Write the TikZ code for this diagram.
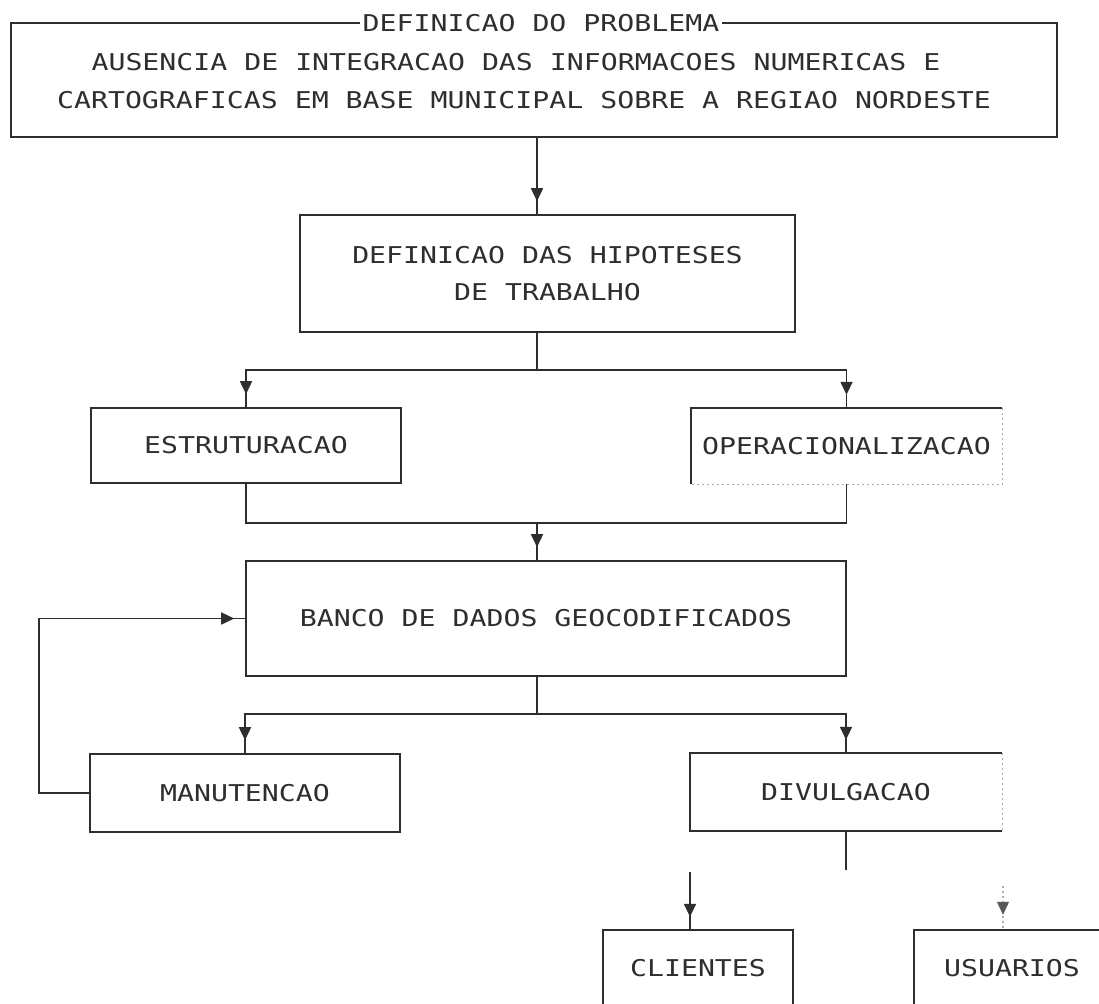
\documentclass[tikz,border=0pt]{standalone}
\usepackage{fontspec}
\setmonofont{DejaVu Sans Mono}
\usetikzlibrary{arrows.meta,decorations.markings}
\definecolor{ink}{gray}{0.18}
\newcommand{\dmfont}{\ttfamily\fontsize{28.2}{34}\selectfont}
\newcommand{\dmtxt}[1]{\scalebox{1}[0.82]{#1}}
\tikzset{
  line/.style={draw=ink, line width=1.6pt},
  faint/.style={draw=ink!40, line width=1.1pt, dash pattern=on 2pt off 3pt},
  box/.style={line, inner sep=0pt, font=\dmfont, text=ink, anchor=center},
  plainbox/.style={inner sep=0pt, font=\dmfont, text=ink, anchor=center},
  txt/.style={inner sep=0pt, font=\dmfont, text=ink},
  titletxt/.style={inner xsep=3pt, inner ysep=2pt, fill=white, font=\dmfont, text=ink},
  arr/.style={line, postaction={decorate},
    decoration={markings, mark=at position -13pt with {\arrow[ink]{Triangle[width=12pt,length=13pt]}}}},
  arrfb/.style={line, postaction={decorate},
    decoration={markings, mark=at position -11pt with {\arrow[ink]{Triangle[width=12pt,length=13pt]}}}},
  arrfaint/.style={faint, postaction={decorate},
    decoration={markings, mark=at position -15pt with {\arrow[ink!80]{Triangle[width=12pt,length=13pt]}}}},
}
\begin{document}
\begin{tikzpicture}[x=1pt,y=-1pt]
\useasboundingbox (0,0) rectangle (1099,1003);
\clip (0,0) rectangle (1099,1003);
\fill[white] (0,0) rectangle (1099,1003);

% problem box
\node[box, minimum width=1046pt, minimum height=114pt] (prob) at (534,80) {};
\node[titletxt] (probt) at (541,23) {\dmtxt{DEFINICAO DO PROBLEMA}};
\node[txt] (pl1) at (516,62) {\dmtxt{AUSENCIA DE INTEGRACAO DAS INFORMACOES NUMERICAS E}};
\node[txt] (pl2) at (524,100) {\dmtxt{CARTOGRAFICAS EM BASE MUNICIPAL SOBRE A REGIAO NORDESTE}};

% hypotheses
\node[box, minimum width=495pt, minimum height=117pt, align=center] (hip) at (547.5,273.5)
  {\dmtxt{DEFINICAO DAS HIPOTESES}\\[3pt]\dmtxt{DE TRABALHO}};

% second row
\node[box, minimum width=310pt, minimum height=75pt] (estr) at (246,445.5) {\dmtxt{ESTRUTURACAO}};
\node[plainbox, minimum width=311pt, minimum height=76pt] (oper) at (846.5,446) {\dmtxt{OPERACIONALIZACAO}};
\draw[line] (oper.south west) -- (oper.north west) -- (oper.north east);
\draw[faint] (oper.north east) -- (oper.south east) -- (oper.south west);

% database
\node[box, minimum width=600pt, minimum height=115pt] (banco) at (546,618.5) {\dmtxt{BANCO DE DADOS GEOCODIFICADOS}};

% fourth row
\node[box, minimum width=310pt, minimum height=78pt] (manut) at (245,793) {\dmtxt{MANUTENCAO}};
\node[plainbox, minimum width=312pt, minimum height=78pt] (divul) at (846,792) {\dmtxt{DIVULGACAO}};
\draw[line] (divul.north east) -- (divul.north west) -- (divul.south west) -- (divul.south east);
\draw[faint] (divul.north east) -- (divul.south east);

% bottom row (cut by the page edge)
\node[plainbox, minimum width=190pt, minimum height=76pt] (cli) at (698,968) {\dmtxt{CLIENTES}};
\draw[line] ([yshift=-40pt]cli.south west) -- (cli.north west) -- (cli.north east) -- ([yshift=-40pt]cli.south east);
\node[plainbox, minimum width=196pt, minimum height=76pt] (usu) at (1012,968) {\dmtxt{USUARIOS}};
\draw[line] ([yshift=-40pt]usu.south west) -- (usu.north west) -- (usu.north east) -- ([yshift=-40pt]usu.south east);

% coordinates
\coordinate (cx) at (537,0);
\coordinate (j1) at (537,370);
\coordinate (j2) at (537,523);
\coordinate (j3) at (537,714);
\coordinate (fb) at (39,700);
\coordinate (d1) at (846,870);
\coordinate (c2) at (690,872);
\coordinate (u1) at (1003,886);

% connectors
\draw[arr] (prob.south -| cx) -- (hip.north -| cx);
\draw[line] (hip.south -| cx) -- (j1);
\draw[arr] (j1) -| (estr.north);
\draw[arr] (j1) -| (oper.north);
\draw[line] (estr.south) |- (j2) -| (oper.south);
\draw[arr] (j2) -- (banco.north -| cx);
\draw[line] (banco.south -| cx) -- (j3);
\draw[arr] (j3) -| (manut.north);
\draw[arr] (j3) -| (divul.north);
\draw[arrfb] (manut.west) -| (fb) |- (banco.west);
\draw[line] (divul.south) -- (d1);
\draw[arr] (c2) -- (cli.north -| c2);
\draw[arrfaint] (u1) -- (usu.north -| u1);
\end{tikzpicture}
\end{document}
